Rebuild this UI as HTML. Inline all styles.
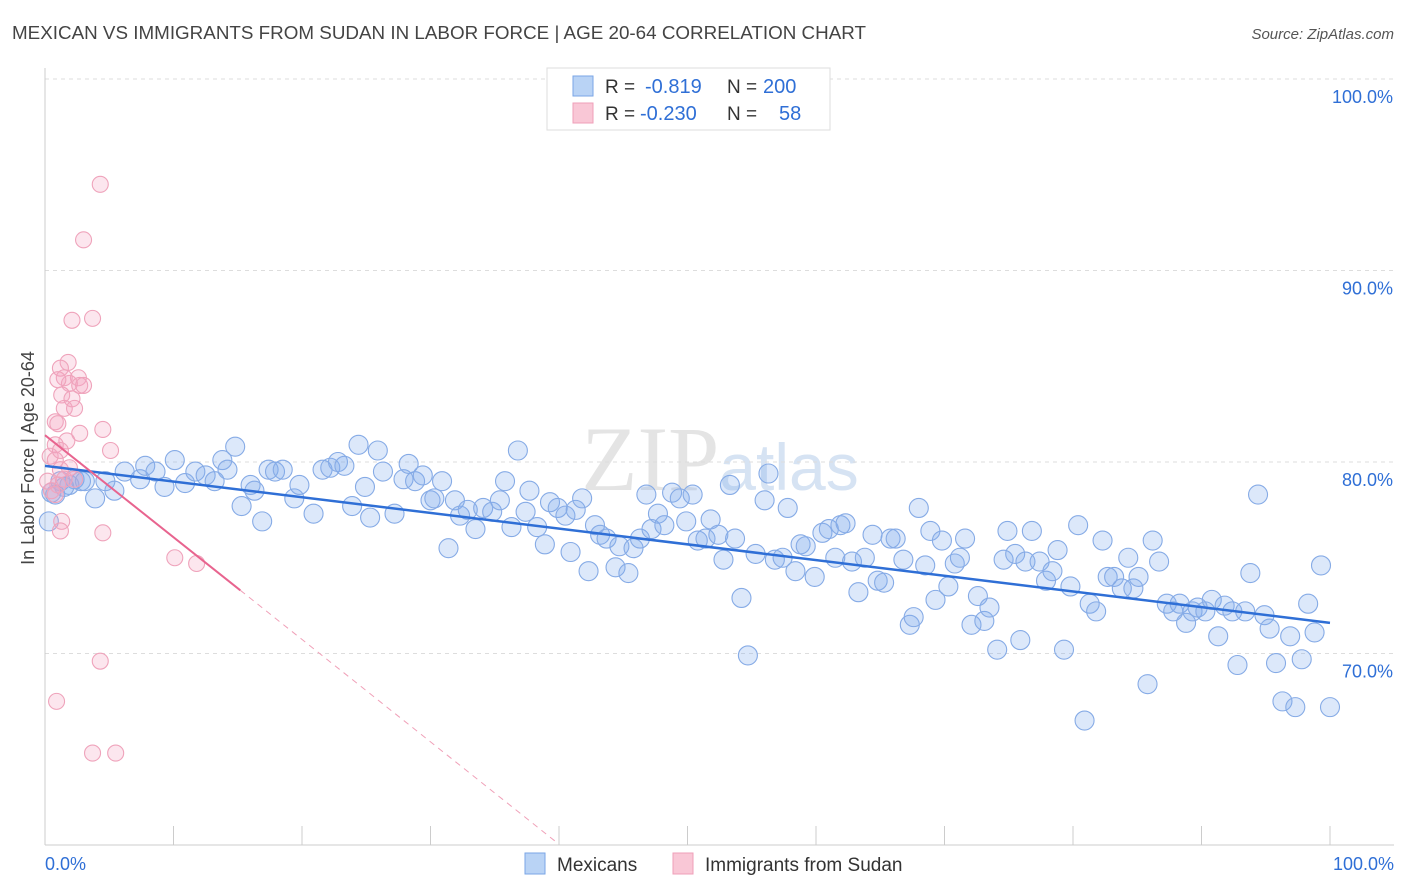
<!DOCTYPE html>
<html><head><meta charset="utf-8"><style>
body{margin:0;background:#fff;font-family:"Liberation Sans",sans-serif;}
svg{display:block}
</style></head><body>
<svg id="chart" width="1406" height="892">
<text x="12" y="39" font-size="18" fill="#444" textLength="854" lengthAdjust="spacingAndGlyphs">MEXICAN VS IMMIGRANTS FROM SUDAN IN LABOR FORCE | AGE 20-64 CORRELATION CHART</text>
<text x="1394" y="39" font-size="15" fill="#555" font-style="italic" text-anchor="end">Source: ZipAtlas.com</text>
<text x="720" y="490" font-size="92" fill="#e4e4e4" text-anchor="middle" font-family="Liberation Serif,serif">ZIP<tspan fill="#d6e3f3" font-family="Liberation Sans,sans-serif" font-size="66">atlas</tspan></text>
<g id="grid"></g><g id="axes"></g><g id="pts"></g><g id="trends"></g>
<text transform="translate(34,458) rotate(-90)" font-size="18" fill="#444" text-anchor="middle">In Labor Force | Age 20-64</text>
<g>
<rect x="547" y="68" width="283" height="62" fill="#fff" stroke="#ddd"/>
<rect x="573" y="76" width="20" height="20" fill="#b9d3f5" stroke="#7aa6e6"/>
<rect x="573" y="103" width="20" height="20" fill="#f9c7d6" stroke="#ef9fb8"/>
<text x="605" y="93" font-size="19" fill="#333">R =</text>
<text x="645" y="93" font-size="20" fill="#2f6fd6">-0.819</text>
<text x="727" y="93" font-size="19" fill="#333">N =</text>
<text x="763" y="93" font-size="20" fill="#2f6fd6">200</text>
<text x="605" y="120" font-size="19" fill="#333">R =</text>
<text x="640" y="120" font-size="20" fill="#2f6fd6">-0.230</text>
<text x="727" y="120" font-size="19" fill="#333">N =</text>
<text x="779" y="120" font-size="20" fill="#2f6fd6">58</text>
</g>
<g>
<rect x="525" y="853" width="20" height="21" fill="#b9d3f5" stroke="#7aa6e6"/>
<text x="557" y="871" font-size="19" fill="#333">Mexicans</text>
<rect x="673" y="853" width="20" height="21" fill="#f9c7d6" stroke="#ef9fb8"/>
<text x="705" y="871" font-size="19" fill="#333">Immigrants from Sudan</text>
</g>
</svg>
<script>
const yTicks=[100,90,80,70];
const yTickLabels=["100.0%","90.0%","80.0%","70.0%"];
const xTicks=[0,10,20,30,40,50,60,70,80,90,100];
const xLabels=["0.0%","100.0%"];
const blueX=[0.8,1.2,1.9,2.3,3.1,3.9,4.7,5.4,6.2,7.4,7.8,8.6,9.3,10.1,10.9,11.7,12.5,13.2,13.8,14.2,14.8,15.3,16.0,16.3,16.9,17.4,17.9,18.5,19.4,19.8,20.9,21.6,22.2,22.8,23.3,23.9,24.4,24.9,25.3,25.9,26.3,27.2,27.9,28.3,28.8,29.4,30.0,30.3,30.9,31.4,31.9,32.3,32.9,33.5,34.1,34.8,35.4,35.8,36.3,36.8,37.4,37.7,38.3,38.9,39.3,39.9,40.5,40.9,41.3,41.8,42.3,42.8,43.2,43.7,44.4,44.7,45.4,45.8,46.3,46.8,47.2,47.7,48.2,48.8,49.4,49.9,50.4,50.8,51.4,51.8,52.4,52.8,53.3,53.7,54.2,54.7,55.3,56.0,56.3,56.8,57.4,57.8,58.4,58.8,59.2,59.9,60.5,61.0,61.5,61.9,62.3,62.8,63.3,63.8,64.4,64.8,65.3,65.8,66.2,66.8,67.3,67.6,68.0,68.5,68.9,69.3,69.8,70.3,70.8,71.2,71.6,72.1,72.6,73.1,73.5,74.1,74.6,74.9,75.5,75.9,76.3,76.8,77.4,77.9,78.4,78.8,79.3,79.8,80.4,80.9,81.3,81.8,82.3,82.7,83.2,83.8,84.3,84.7,85.1,85.8,86.2,86.7,87.3,87.8,88.3,88.8,89.3,89.7,90.3,90.8,91.3,91.8,92.4,92.8,93.4,93.8,94.4,94.9,95.3,95.8,96.3,96.9,97.3,97.8,98.3,98.8,99.3,100,0.3,0.5,1.5,2.8];
const blueY=[78.3,79.0,78.8,79.1,79.0,78.1,79.0,78.5,79.5,79.1,79.8,79.5,78.7,80.1,78.9,79.5,79.3,79.0,80.1,79.6,80.8,77.7,78.8,78.5,76.9,79.6,79.5,79.6,78.1,78.8,77.3,79.6,79.7,80.0,79.8,77.7,80.9,78.7,77.1,80.6,79.5,77.3,79.1,79.9,79.0,79.3,78.0,78.1,79.0,75.5,78.0,77.2,77.5,76.5,77.6,77.4,78.0,79.0,76.6,80.6,77.4,78.5,76.6,75.7,77.9,77.6,77.2,75.3,77.5,78.1,74.3,76.7,76.2,76.0,74.5,75.6,74.2,75.5,76.0,78.3,76.5,77.3,76.7,78.4,78.1,76.9,78.3,75.9,76.0,77.0,76.2,74.9,78.8,76.0,72.9,69.9,75.2,78.0,79.4,74.9,75.0,77.6,74.3,75.7,75.6,74.0,76.3,76.5,75.0,76.7,76.8,74.8,73.2,75.0,76.2,73.8,73.7,76.0,76.0,74.9,71.5,71.9,77.6,74.6,76.4,72.8,75.9,73.5,74.7,75.0,76.0,71.5,73.0,71.7,72.4,70.2,74.9,76.4,75.2,70.7,74.8,76.4,74.8,73.8,74.3,75.4,70.2,73.5,76.7,66.5,72.6,72.2,75.9,74.0,74.0,73.4,75.0,73.4,74.0,68.4,75.9,74.8,72.6,72.2,72.6,71.6,72.2,72.4,72.2,72.8,70.9,72.5,72.2,69.4,72.2,74.2,78.3,72.0,71.3,69.5,67.5,70.9,67.2,69.7,72.6,71.1,74.6,67.2,76.9,78.4,78.7,79.0];
const pinkX=[4.3,3.0,2.1,3.7,1.8,1.2,1.5,2.6,1.9,2.7,3.0,1.0,1.3,2.1,1.5,2.3,0.8,1.0,4.5,2.7,1.7,0.8,5.1,0.4,0.8,1.2,1.9,1.5,1.0,2.3,0.5,0.8,1.3,1.2,4.5,10.1,11.8,4.3,0.9,3.7,5.5,1.2,0.2];
const pinkY=[94.5,91.6,87.4,87.5,85.2,84.9,84.4,84.4,84.1,84.0,84.0,84.3,83.5,83.3,82.8,82.8,82.1,82.0,81.7,81.5,81.1,80.9,80.6,80.3,80.1,79.6,79.7,79.1,78.8,79.1,78.5,78.3,76.9,76.4,76.3,75.0,74.7,69.6,67.5,64.8,64.8,80.6,79.0];
const blueTrend=[[0,79.8],[100,71.6]];
const pinkTrendSolid=[[0,81.4],[15.2,73.3]];
const pinkTrendDash=[[15.2,73.3],[39.7,60.2]];
const NS="http://www.w3.org/2000/svg";
const sx=v=>45+v*12.85, sy=v=>845-(v-60)*19.15;
function mk(tag,attrs,parent){const e=document.createElementNS(NS,tag);for(const k in attrs)e.setAttribute(k,attrs[k]);document.getElementById(parent).appendChild(e);return e;}
yTicks.forEach((t,i)=>{
 const l=mk('line',{x1:45,x2:1394,y1:sy(t),y2:sy(t),stroke:'#ddd','stroke-dasharray':'4,4'},'grid');
 
 
 const tx=mk('text',{x:1393,y:sy(t)+24,'font-size':18,fill:'#2f6fd6','text-anchor':'end'},'grid');
 tx.textContent=yTickLabels[i];
 
 
});
const ax=mk('line',{x1:45,x2:45,y1:68,y2:845,stroke:'#ccc'},'axes');


const bx=mk('line',{x1:45,x2:1394,y1:845,y2:845,stroke:'#ccc'},'axes');


xTicks.forEach(t=>{const l=mk('line',{x1:sx(t),x2:sx(t),y1:826,y2:845,stroke:'#ccc'},'axes');
 
 });
[[0,'start',45],[100,'end',1394]].forEach((d,i)=>{const t=mk('text',{x:d[2],y:870,'font-size':18,fill:'#2f6fd6','text-anchor':d[1]},'axes');t.textContent=xLabels[i];
 
 });
blueX.forEach((x,i)=>{const c=mk('circle',{cx:sx(x),cy:sy(blueY[i]),r:9.5,fill:'rgba(130,172,238,0.28)',stroke:'#86abe6','stroke-width':1.1},'pts');
 
 });
pinkX.forEach((x,i)=>{const c=mk('circle',{cx:sx(x),cy:sy(pinkY[i]),r:8,fill:'rgba(245,165,195,0.28)',stroke:'#efa3bb','stroke-width':1.1},'pts');
 
 });
const bt=mk('line',{x1:sx(blueTrend[0][0]),y1:sy(blueTrend[0][1]),x2:sx(blueTrend[1][0]),y2:sy(blueTrend[1][1]),stroke:'#2f6fd6','stroke-width':2.5},'trends');


const pt=mk('line',{x1:sx(pinkTrendSolid[0][0]),y1:sy(pinkTrendSolid[0][1]),x2:sx(pinkTrendSolid[1][0]),y2:sy(pinkTrendSolid[1][1]),stroke:'#e8648f','stroke-width':2},'trends');


const pd=mk('line',{x1:sx(pinkTrendDash[0][0]),y1:sy(pinkTrendDash[0][1]),x2:sx(pinkTrendDash[1][0]),y2:sy(pinkTrendDash[1][1]),stroke:'#f0a0b8','stroke-width':1,'stroke-dasharray':'6,5'},'trends');


</script>
</body></html>
